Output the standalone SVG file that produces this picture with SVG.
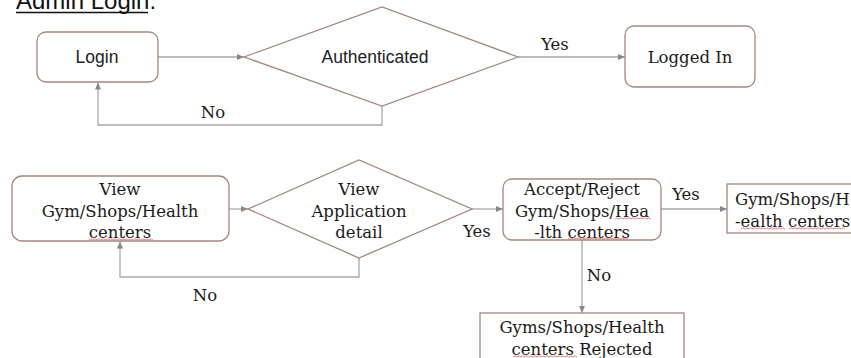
<svg xmlns="http://www.w3.org/2000/svg" width="851" height="358" viewBox="0 0 851 358">
<style>
.box{fill:#fff;stroke:#a4877c;stroke-width:1.3}
.con{fill:none;stroke:#a9a9a9;stroke-width:1.3}
.sans{font-family:"Liberation Sans",Arial,sans-serif;fill:#222;text-anchor:middle}
.serif{font-family:"DejaVu Serif","Liberation Serif",serif;font-size:16.5px;fill:#1a1a1a;text-anchor:middle}
.sq{fill:none;stroke:#d77;stroke-width:0.9}
</style>
<defs>
<marker id="ah" markerWidth="8" markerHeight="8" refX="7" refY="4" orient="auto" markerUnits="userSpaceOnUse">
<path d="M0,1 L7,4 L0,7 Z" fill="#888"/>
</marker>
</defs>
<rect width="851" height="358" fill="#fff"/>
<g id="title">
<text x="16" y="9" style="font-family:'Liberation Sans',Arial,sans-serif;font-size:24px;fill:#111">Admin Login:</text>
<line x1="16" y1="12.5" x2="148" y2="12.5" stroke="#111" stroke-width="1.3"/>
</g>
<g id="connectors">
<line class="con" x1="158" y1="57" x2="244" y2="57" marker-end="url(#ah)"/>
<line class="con" x1="518" y1="57" x2="625" y2="57" marker-end="url(#ah)"/>
<polyline class="con" points="382,106 382,125 98,125 98,82.5" marker-end="url(#ah)"/>
<line class="con" x1="229" y1="209" x2="248" y2="209" marker-end="url(#ah)"/>
<polyline class="con" points="359,258 359,277 120,277 120,241.5" marker-end="url(#ah)"/>
<line class="con" x1="472" y1="209" x2="503" y2="209" marker-end="url(#ah)"/>
<line class="con" x1="661" y1="209" x2="727" y2="209" marker-end="url(#ah)"/>
<line class="con" x1="582" y1="240" x2="582" y2="313" marker-end="url(#ah)"/>
<text class="serif" x="555" y="50">Yes</text>
<text class="serif" x="213" y="118">No</text>
<text class="serif" x="205" y="301">No</text>
<text class="serif" x="477" y="237">Yes</text>
<text class="serif" x="686" y="200">Yes</text>
<text class="serif" x="599" y="281">No</text>
</g>
<g id="login">
<rect class="box" x="37" y="32" width="121" height="50" rx="9"/>
<text class="sans" x="97" y="63" font-size="17.5">Login</text>
</g>
<g id="authenticated">
<polygon class="box" points="244,57 382,7 518,57 382,106"/>
<text class="sans" x="375" y="63" font-size="17.5">Authenticated</text>
</g>
<g id="logged-in">
<rect class="box" x="625" y="26" width="130" height="61" rx="9"/>
<text class="serif" x="690" y="63">Logged In</text>
</g>
<g id="view-centers">
<rect class="box" x="12" y="176" width="217" height="65" rx="10"/>
<text class="serif" x="120" y="195">View</text>
<text class="serif" x="120" y="217">Gym/Shops/Health</text>
<text class="serif" x="120" y="238">centers</text>
</g>
<g id="view-application">
<polygon class="box" points="248,209 359,160 472,209 359,258"/>
<text class="serif" x="359" y="195">View</text>
<text class="serif" x="359" y="217">Application</text>
<text class="serif" x="359" y="238">detail</text>
</g>
<g id="accept-reject">
<rect class="box" x="503" y="179" width="158" height="61" rx="9"/>
<text class="serif" x="582" y="195">Accept/Reject</text>
<text class="serif" x="582" y="217">Gym/Shops/Hea</text>
<text class="serif" x="582" y="238">-lth centers</text>
</g>
<g id="accepted">
<rect class="box" x="727" y="184" width="140" height="49"/>
<text class="serif" x="735" y="205" style="text-anchor:start">Gym/Shops/H</text>
<text class="serif" x="735" y="227" style="text-anchor:start">-ealth centers</text>
</g>
<g id="rejected">
<rect class="box" x="480" y="313" width="204" height="60"/>
<text class="serif" x="582" y="333">Gyms/Shops/Health</text>
<text class="serif" x="582" y="355">centers Rejected</text>
</g>
<g id="spellcheck">
<path class="sq" d="M89,240 l2,-1.2 l2,1.2 l2,-1.2 l2,1.2 l2,-1.2 l2,1.2 l2,-1.2 l2,1.2 l2,-1.2 l2,1.2 l2,-1.2 l2,1.2 l2,-1.2 l2,1.2 l2,-1.2 l2,1.2 l2,-1.2 l2,1.2 l2,-1.2 l2,1.2 l2,-1.2 l2,1.2 l2,-1.2 l2,1.2 l2,-1.2 l2,1.2 l2,-1.2 l2,1.2 l2,-1.2 l2,1.2 l2,-1.2 l2,1.2"/>
<path class="sq" d="M615,219 l2,-1.2 l2,1.2 l2,-1.2 l2,1.2 l2,-1.2 l2,1.2 l2,-1.2 l2,1.2 l2,-1.2 l2,1.2 l2,-1.2 l2,1.2 l2,-1.2 l2,1.2 l2,-1.2 l2,1.2 l2,-1.2 l2,1.2"/>
<path class="sq" d="M568,239 l2,-1.2 l2,1.2 l2,-1.2 l2,1.2 l2,-1.2 l2,1.2 l2,-1.2 l2,1.2 l2,-1.2 l2,1.2 l2,-1.2 l2,1.2 l2,-1.2 l2,1.2 l2,-1.2 l2,1.2 l2,-1.2 l2,1.2 l2,-1.2 l2,1.2 l2,-1.2 l2,1.2 l2,-1.2 l2,1.2 l2,-1.2 l2,1.2 l2,-1.2 l2,1.2 l2,-1.2 l2,1.2"/>
<path class="sq" d="M741,229 l2,-1.2 l2,1.2 l2,-1.2 l2,1.2 l2,-1.2 l2,1.2 l2,-1.2 l2,1.2 l2,-1.2 l2,1.2 l2,-1.2 l2,1.2 l2,-1.2 l2,1.2 l2,-1.2 l2,1.2 l2,-1.2 l2,1.2 l2,-1.2 l2,1.2 l2,-1.2 l2,1.2"/>
<path class="sq" d="M789,229 l2,-1.2 l2,1.2 l2,-1.2 l2,1.2 l2,-1.2 l2,1.2 l2,-1.2 l2,1.2 l2,-1.2 l2,1.2 l2,-1.2 l2,1.2 l2,-1.2 l2,1.2 l2,-1.2 l2,1.2 l2,-1.2 l2,1.2 l2,-1.2 l2,1.2 l2,-1.2 l2,1.2 l2,-1.2 l2,1.2 l2,-1.2 l2,1.2 l2,-1.2 l2,1.2"/>
<path class="sq" d="M513,357 l2,-1.2 l2,1.2 l2,-1.2 l2,1.2 l2,-1.2 l2,1.2 l2,-1.2 l2,1.2 l2,-1.2 l2,1.2 l2,-1.2 l2,1.2 l2,-1.2 l2,1.2 l2,-1.2 l2,1.2 l2,-1.2 l2,1.2 l2,-1.2 l2,1.2 l2,-1.2 l2,1.2 l2,-1.2 l2,1.2 l2,-1.2 l2,1.2 l2,-1.2 l2,1.2 l2,-1.2 l2,1.2 l2,-1.2 l2,1.2"/>
</g>
</svg>
